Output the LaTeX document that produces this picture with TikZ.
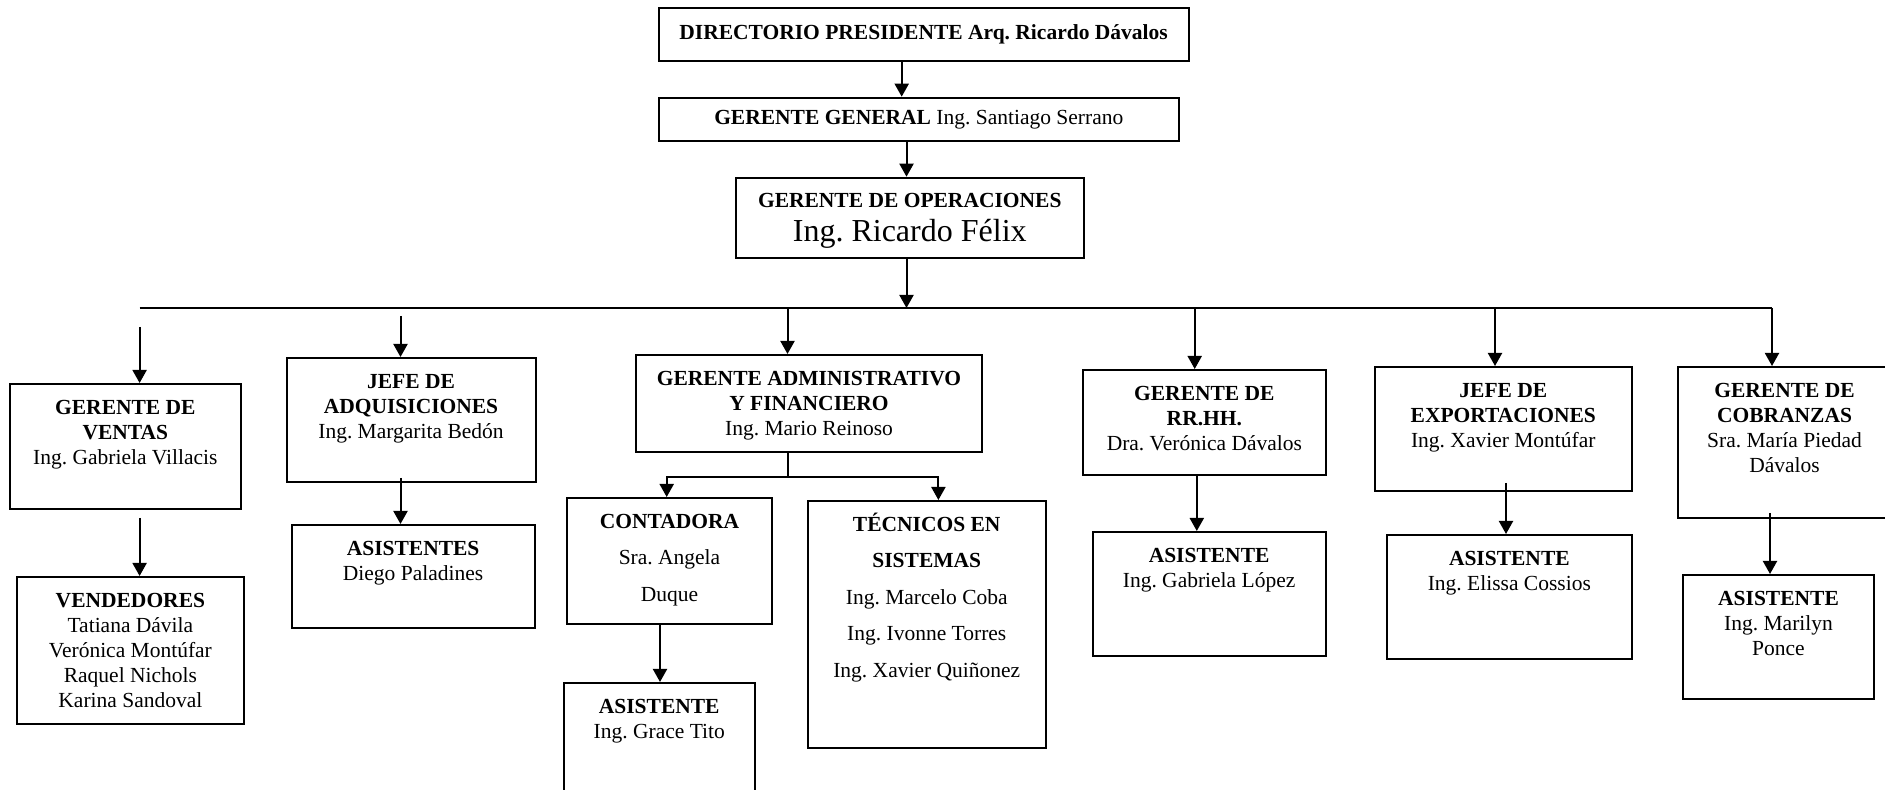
\documentclass[tikz,border=0pt]{standalone}
\usepackage{fontspec}
\setmainfont{Liberation Serif}
\usetikzlibrary{arrows.meta}
\frenchspacing

% one drawing unit = one pixel of the chart, y grows downwards
\newdimen\unitpx \unitpx=0.5pt
% strut that puts the first baseline at a fixed distance below a box top
\newcommand\firstln{\rule{0pt}{15.1pt}}
% top-aligned, centred cell: [baselineskip]{width px}{height px}{text}
\newcommand\cell[4][12.5pt]{\parbox[c][#3\unitpx][t]{#2\unitpx}{\fontsize{10.75pt}{#1}\selectfont\centering\firstln#4}}

\tikzset{
  obox/.style={draw, line width=1pt, inner sep=0pt, anchor=north west,
               font=\fontsize{10.75pt}{12.5pt}\selectfont},
  arr/.style={line width=1pt, -{Triangle[length=6.5pt,width=7pt]}},
  bus/.style={line width=1pt}
}

\begin{document}
\begin{tikzpicture}[x=0.5pt, y=-0.5pt]
\useasboundingbox (0,0) rectangle (1885,790);
\clip (0,0) rectangle (1885,790);

% ---- top of the chart
\node[obox, minimum width=530\unitpx, minimum height=53.6\unitpx] (dir) at (657.6,6.7)
  {\textbf{DIRECTORIO PRESIDENTE Arq. Ricardo Dávalos}};
\node[obox, minimum width=520.4\unitpx, minimum height=43.3\unitpx] (gen) at (657.6,96.7)
  {\textbf{GERENTE GENERAL} Ing. Santiago Serrano};
\node[obox] (ops) at (734.5,176.7)
  {\cell{348.5}{80.3}{\textbf{GERENTE DE OPERACIONES}\par{\fontsize{16pt}{16.7pt}\selectfont Ing. Ricardo Félix\par}}};

% ---- departments
\node[obox] (ventas) at (8.7,383)
  {\cell{231.3}{125}{\textbf{GERENTE DE}\\\textbf{VENTAS}\\Ing. Gabriela Villacis}};
\node[obox] (vend) at (15.8,576)
  {\cell{227.2}{147}{\textbf{VENDEDORES}\\Tatiana Dávila\\Verónica Montúfar\\Raquel Nichols\\Karina Sandoval}};
\node[obox] (adq) at (285.5,357)
  {\cell{249}{124}{\textbf{JEFE DE}\\\textbf{ADQUISICIONES}\\Ing. Margarita Bedón}};
\node[obox] (asis) at (290.6,524)
  {\cell{243}{103}{\textbf{ASISTENTES}\\Diego Paladines}};
\node[obox] (admin) at (635,354)
  {\cell{346}{97}{\textbf{GERENTE ADMINISTRATIVO}\\\textbf{Y FINANCIERO}\\Ing. Mario Reinoso}};
\node[obox] (conta) at (566,497)
  {\cell[18.3pt]{205}{126}{\textbf{CONTADORA}\\Sra. Angela\\Duque}};
\node[obox] (grace) at (563,682)
  {\cell{190.5}{118}{\textbf{ASISTENTE}\\Ing. Grace Tito}};
\node[obox] (tec) at (807,500)
  {\cell[18.3pt]{237.5}{247}{\textbf{TÉCNICOS EN}\\\textbf{SISTEMAS}\\Ing. Marcelo Coba\\Ing. Ivonne Torres\\Ing. Xavier Quiñonez}};
\node[obox] (rrhh) at (1082,369)
  {\cell{242.7}{105}{\textbf{GERENTE DE}\\\textbf{RR.HH.}\\Dra. Verónica Dávalos}};
\node[obox] (lopez) at (1091.6,531)
  {\cell{233}{124}{\textbf{ASISTENTE}\\Ing. Gabriela López}};
\node[obox] (expo) at (1373.6,366)
  {\cell{257.4}{124}{\textbf{JEFE DE}\\\textbf{EXPORTACIONES}\\Ing. Xavier Montúfar}};
\node[obox] (cossios) at (1385.7,534)
  {\cell{245.3}{124}{\textbf{ASISTENTE}\\Ing. Elissa Cossios}};
\node[obox] (cobr) at (1677,366)
  {\cell{213}{151}{\textbf{GERENTE DE}\\\textbf{COBRANZAS}\\Sra. María Piedad\\Dávalos}};
\node[obox] (ponce) at (1682,574)
  {\cell{191}{124}{\textbf{ASISTENTE}\\Ing. Marilyn\\Ponce}};

% ---- chain of command at the top
\coordinate (d1) at (901.7,0);
\coordinate (d2) at (906.5,0);
\draw[arr] (dir.south -| d1) -- (gen.north -| d1);
\draw[arr] (gen.south -| d2) -- (ops.north -| d2);

% ---- distribution bus
\coordinate (busL) at (139.6,308);
\coordinate (busR) at (1772,308);
\coordinate (busM) at (906.5,308);
\draw[arr] (ops.south -| busM) -- (busM);
\draw[bus] (busL) -- (busR);

\coordinate (s1) at (139.6,327);
\coordinate (s2) at (400.5,316);
\coordinate (s3) at (787.5,308);
\coordinate (s4) at (1194.7,308);
\coordinate (s5) at (1495,308);
\coordinate (s6) at (1772,308);
\draw[arr] (s1) -- (s1 |- ventas.north);
\draw[arr] (s2) -- (s2 |- adq.north);
\draw[arr] (s3) -- (s3 |- admin.north);
\draw[arr] (s4) -- (s4 |- rrhh.north);
\draw[arr] (s5) -- (s5 |- expo.north);
\draw[arr] (s6) -- (s6 |- cobr.north);

% ---- administrative split
\coordinate (sp) at (788,477);
\coordinate (ca) at (666.7,477);
\coordinate (ta) at (938.4,477);
\draw[bus] (admin.south -| sp) -- (sp);
\draw[arr] (sp) -- (ca) -- (ca |- conta.north);
\draw[arr] (sp) -- (ta) -- (ta |- tec.north);

% ---- assistants
\coordinate (c1) at (139.6,518);
\coordinate (c2) at (400.5,478);
\coordinate (c3) at (660,0);
\coordinate (c4) at (1196.8,0);
\coordinate (c5) at (1506,483);
\coordinate (c6) at (1770,513);
\draw[arr] (c1) -- (c1 |- vend.north);
\draw[arr] (c2) -- (c2 |- asis.north);
\draw[arr] (conta.south -| c3) -- (grace.north -| c3);
\draw[arr] (rrhh.south -| c4) -- (lopez.north -| c4);
\draw[arr] (c5) -- (c5 |- cossios.north);
\draw[arr] (c6) -- (c6 |- ponce.north);
\end{tikzpicture}
\end{document}
